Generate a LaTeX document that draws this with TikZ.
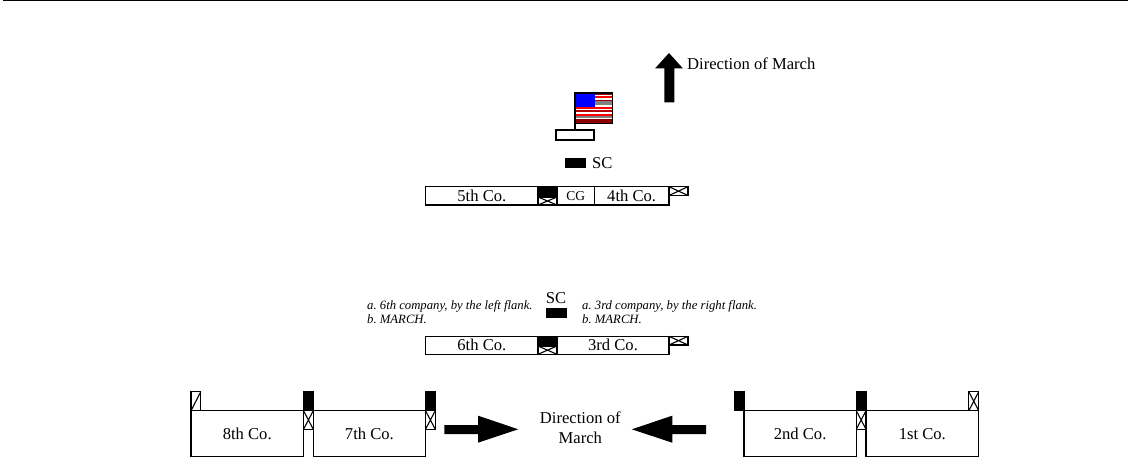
\documentclass[tikz,border=0pt]{standalone}
\usepackage{fontspec}
\setmainfont{Liberation Serif}
\tikzset{
  box/.style={draw=black,line width=1.2pt,fill=white},
  solid box/.style={draw=black,line width=1pt,fill=black},
  lbl/.style={inner sep=0pt,font=\fontsize{16.6}{20}\selectfont},
  small/.style={inner sep=0pt,font=\fontsize{13.5}{15}\selectfont},
  order/.style={inner sep=0pt,align=left,anchor=west,font=\fontsize{12.7}{14}\selectfont\itshape\frenchspacing},
  big arrow/.style={fill=black,draw=none}
}
\newcommand{\xbox}[4]{\draw[box] (#1,#2) rectangle (#3,#4); \draw[line width=1.1pt] (#1,#2) -- (#3,#4) (#1,#4) -- (#3,#2);}
\begin{document}
\begin{tikzpicture}[x=1pt,y=-1pt]
\useasboundingbox (0,0) rectangle (1138,465);
\fill[white] (0,0) rectangle (1138,465);
\fill[black] (3,0) rectangle (1128,1.5);

% Direction arrow (up)
\fill[big arrow] (669,53) -- (683,68.5) -- (674.3,68.5) -- (674.3,102.3) -- (664.3,102.3) -- (664.3,68.5) -- (655,68.5) -- cycle;
\node[lbl,anchor=west] (dirtop) at (687,64) {Direction of March};

% Flag
\draw[line width=1.2pt] (575,123) -- (575,130);
\fill[white] (575,93) rectangle (612.7,123.3);
\foreach \a/\b/\c in {106.7/109/red,110.5/112.5/red!70!black,114.5/116/red,116/118.5/gray,119.5/123.3/red!55!black}{
  \fill[\c] (575,\a) rectangle (612.7,\b);}
\foreach \a/\b/\c in {93/95/red!60!black,96.5/98.5/red,100/101.5/red!60!black,101.5/105/gray}{
  \fill[\c] (594.7,\a) rectangle (612.7,\b);}
\fill[blue] (575,93) rectangle (594.7,106.7);
\draw[line width=1.2pt] (575,93) rectangle (612.7,123.3);
\draw[box] (556,130) rectangle (594,140);

% SC upper
\draw[solid box] (565.5,158.5) rectangle (585,167.5);
\node[lbl,anchor=west] (sctop) at (592,163) {SC};

% Upper formation
\draw[box] (425.7,186.7) rectangle (538,205) node[midway,lbl] (fifth) {5th Co.};
\draw[solid box] (538,186.7) rectangle (557,197);
\xbox{538}{197}{557}{205}
\draw[box] (557,186.7) rectangle (594.3,205) node[midway,small] (cg) {CG};
\draw[box] (594.3,186.7) rectangle (669,205) node[midway,lbl] (fourth) {4th Co.};
\xbox{669}{186.7}{688}{195.5}

% Orders
\node[order] (ordl) at (367,312) {a. 6th company, by the left flank.\\ b. MARCH.};
\node[order] (ordr) at (582,312) {a. 3rd company, by the right flank.\\ b. MARCH.};
\node[lbl,anchor=center] (scmid) at (556,298) {SC};
\draw[solid box] (546.3,308) rectangle (566.5,317.5);

% Middle formation
\draw[box] (425.7,336.3) rectangle (538,354.3) node[midway,lbl] (sixth) {6th Co.};
\draw[solid box] (538,336.3) rectangle (557,346);
\xbox{538}{346}{557}{354.3}
\draw[box] (557,336.3) rectangle (669,354.3) node[midway,lbl] (third) {3rd Co.};
\xbox{669}{336.3}{688}{345}

% Lower formation, left
\draw[box] (191,410.7) rectangle (303.5,456.7) node[midway,lbl] (eighth) {8th Co.};
\draw[box] (191,391.7) rectangle (200.8,410.7);
\draw[line width=1.1pt] (191,410.7) -- (200.8,391.7);
\draw[solid box] (303.5,391.7) rectangle (313.3,410.7);
\xbox{303.5}{410.7}{313.3}{429.3}
\draw[box] (313.3,410.7) rectangle (425.5,456.7) node[midway,lbl] (seventh) {7th Co.};
\draw[solid box] (425.5,391.7) rectangle (435.3,410.7);
\xbox{425.5}{410.7}{435.3}{429.3}

% Horizontal arrows
\fill[big arrow] (518.3,429.3) -- (478,415.7) -- (478,425) -- (444.3,425) -- (444.3,434) -- (478,434) -- (478,442.7) -- cycle;
\fill[big arrow] (631.7,429.3) -- (672.3,415.7) -- (672.3,425) -- (706,425) -- (706,434) -- (672.3,434) -- (672.3,442.7) -- cycle;
\node[lbl,align=center,anchor=center] (dirmid) at (580.3,428) {Direction of\\March};

% Lower formation, right
\draw[solid box] (734.3,391.7) rectangle (744,410.7);
\draw[box] (744,410.7) rectangle (856.3,456.7) node[midway,lbl] (second) {2nd Co.};
\draw[solid box] (856.3,391.7) rectangle (866,410.7);
\xbox{856.3}{410.7}{866}{429.3}
\draw[box] (866,410.7) rectangle (978.7,456.7) node[midway,lbl] (first) {1st Co.};
\xbox{968.8}{391.7}{978.7}{410.7}
\end{tikzpicture}
\end{document}
